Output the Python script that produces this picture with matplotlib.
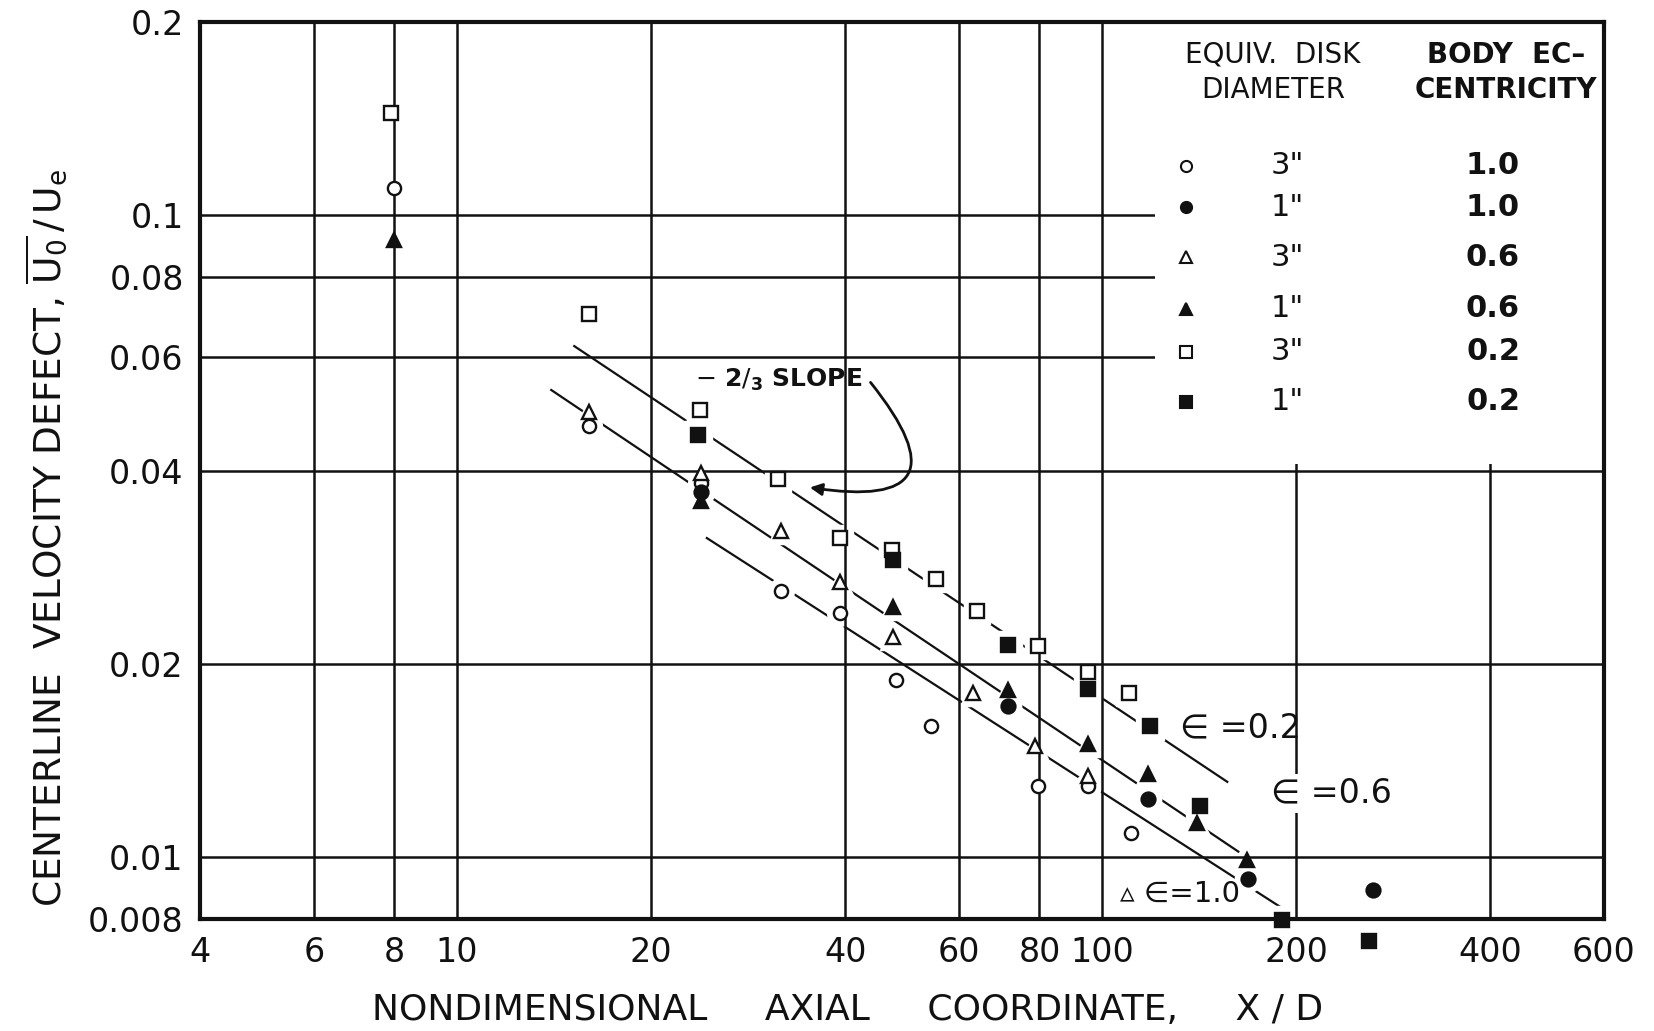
import matplotlib
matplotlib.use("Agg")
import matplotlib.pyplot as plt
from matplotlib.patches import Rectangle
from matplotlib.ticker import NullLocator

plt.rcParams["font.family"] = ["DejaVu Sans"]
plt.rcParams["mathtext.fontset"] = "dejavusans"

# axial station X/D and centerline defect U0/Ue for each disk/eccentricity set
C3_X = [8.0, 16.0, 23.9, 31.8, 39.3, 47.9, 54.3, 79.6, 95.0, 110.8]
C3_Y = [0.110, 0.0469, 0.0382, 0.0260, 0.0240, 0.0189, 0.0160, 0.0129, 0.0129, 0.0109]
C1_X = [23.9, 71.4, 118.0, 168.6, 263.5]
C1_Y = [0.0371, 0.0172, 0.0123, 0.00926, 0.0089]
T3_X = [16.0, 23.9, 31.8, 39.3, 47.5, 63.2, 78.7, 95.0]
T3_Y = [0.0493, 0.0397, 0.0322, 0.0268, 0.0220, 0.0180, 0.0149, 0.0134]
T1_X = [8.0, 23.9, 47.5, 71.4, 95.3, 118.0, 140.5, 167.6]
T1_Y = [0.0913, 0.0358, 0.0245, 0.0182, 0.0150, 0.01345, 0.0113, 0.0099]
S3_X = [7.9, 16.0, 23.8, 31.5, 39.3, 47.3, 55.2, 63.9, 79.5, 95.3, 110.0]
S3_Y = [0.144, 0.0700, 0.0497, 0.0388, 0.0314, 0.0301, 0.0271, 0.0242, 0.0213, 0.0194, 0.0180]
S1_X = [23.6, 47.5, 71.4, 95.3, 118.5, 142.0, 190.0, 259.5]
S1_Y = [0.0455, 0.0290, 0.0214, 0.0183, 0.0160, 0.0120, 0.00798, 0.0074]

# -2/3 slope reference lines (eccentricity 0.2, 0.6, 1.0), end points
FIT_X0 = [15.2, 14.0, 24.4]
FIT_Y0 = [0.0625, 0.0534, 0.0314]
FIT_X1 = [156.4, 162.7, 188.8]
FIT_Y1 = [0.0131, 0.0102, 0.00837]

X_TICKS = [4, 6, 8, 10, 20, 40, 60, 80, 100, 200, 400, 600]
Y_TICKS = [0.008, 0.01, 0.02, 0.04, 0.06, 0.08, 0.1, 0.2]
Y_TICK_LABELS = ["0.008", "0.01", "0.02", "0.04", "0.06", "0.08", "0.1", "0.2"]

LEGEND_DIAM = ['3"', '1"', '3"', '1"', '3"', '1"']
LEGEND_ECC = ["1.0", "1.0", "0.6", "0.6", "0.2", "0.2"]

SERIES = [
    (C3_X, C3_Y, "o", False, 9.5),
    (T3_X, T3_Y, "^", False, 10),
    (S3_X, S3_Y, "s", False, 10),
    (C1_X, C1_Y, "o", True, 10),
    (T1_X, T1_Y, "^", True, 10),
    (S1_X, S1_Y, "s", True, 10.5),
]
LEGEND_ORDER = [("o", False), ("o", True), ("^", False), ("^", True), ("s", False), ("s", True)]
LEGEND_ROWS = [0.8393, 0.7936, 0.7379, 0.6800, 0.6321, 0.5764]

INK = "#111111"
EPS = "\u2208"

fig = plt.figure(figsize=(16.54, 10.31), dpi=100)
ax = fig.add_axes([0.1211, 0.1083, 0.8486, 0.8706])
ax.set_xscale("log")
ax.set_yscale("log")
ax.set_xlim(4, 600)
ax.set_ylim(0.008, 0.2)

ax.set_xticks(X_TICKS)
ax.set_xticklabels([str(v) for v in X_TICKS])
ax.set_yticks(Y_TICKS)
ax.set_yticklabels(Y_TICK_LABELS)
ax.xaxis.set_minor_locator(NullLocator())
ax.yaxis.set_minor_locator(NullLocator())
ax.tick_params(axis="both", length=0, labelsize=24, colors=INK)
ax.tick_params(axis="x", pad=12)
ax.tick_params(axis="y", pad=12)

ax.set_axisbelow(False)
ax.grid(True, color=INK, lw=1.8)
for sp in ax.spines.values():
    sp.set_linewidth(3)
    sp.set_color(INK)
    sp.set_zorder(5)

# blank panel holding the key
ax.add_patch(Rectangle((121, 0.0409), 600 - 121, 0.2 - 0.0409,
                       facecolor="white", edgecolor="none", zorder=2.6))

for x0, y0, x1, y1 in zip(FIT_X0, FIT_Y0, FIT_X1, FIT_Y1):
    ax.plot([x0, x1], [y0, y1], color=INK, lw=1.6, zorder=1.2)

# white halos break the fit lines around each symbol
for xs, ys, m, filled, ms in SERIES:
    ax.plot(xs, ys, ls="none", marker=m, ms=ms + 9, mfc="white", mec="white",
            zorder=1.4, clip_on=False)
for xs, ys, m, filled, ms in SERIES:
    ax.plot(xs, ys, ls="none", marker=m, ms=ms, mfc=INK if filled else "white",
            mec=INK, mew=1.7, zorder=3, clip_on=False)

# key
for i, (m, filled) in enumerate(LEGEND_ORDER):
    yy = LEGEND_ROWS[i]
    ax.plot([0.7023], [yy], transform=ax.transAxes, ls="none", marker=m,
            ms=8 if m != "^" else 8.5, mfc=INK if filled else "white",
            mec=INK, mew=1.5, zorder=4)
    ax.text(0.7743, yy, LEGEND_DIAM[i], transform=ax.transAxes, ha="center",
            va="center", fontsize=22, color=INK, zorder=4)
    ax.text(0.921, yy, LEGEND_ECC[i], transform=ax.transAxes, ha="center",
            va="center", fontsize=22, fontweight="bold", color=INK, zorder=4)
ax.text(0.7638, 0.963, "EQUIV.  DISK", transform=ax.transAxes, ha="center",
        va="center", fontsize=20, color=INK, zorder=4)
ax.text(0.7646, 0.924, "DIAMETER", transform=ax.transAxes, ha="center",
        va="center", fontsize=20, color=INK, zorder=4)
ax.text(0.9304, 0.963, "BODY  EC\u2013", transform=ax.transAxes, ha="center",
        va="center", fontsize=20, fontweight="bold", color=INK, zorder=4)
ax.text(0.9304, 0.924, "CENTRICITY", transform=ax.transAxes, ha="center",
        va="center", fontsize=20, fontweight="bold", color=INK, zorder=4)

# line labels
ax.text(132, 0.0159, EPS + " =0.2", fontsize=24, color=INK, va="center", zorder=4)
ax.text(183, 0.01257, EPS + " =0.6", fontsize=24, color=INK, va="center", zorder=4,
        bbox=dict(facecolor="white", edgecolor="none", pad=2))
ax.text(106.7, 0.00878, "\u25b5 " + EPS + "=1.0", fontsize=21, color=INK,
        va="center", zorder=4)

ax.text(23.4, 0.0553, r"$-\ \mathbf{2}/_{\mathbf{3}}$ SLOPE", fontsize=18,
        fontweight="bold", color=INK, va="center", zorder=4)
ax.annotate("", xy=(34.9, 0.0377), xytext=(43.5, 0.0553),
            arrowprops=dict(arrowstyle="-|>", connectionstyle="arc3,rad=-1.3",
                            lw=2, color=INK, mutation_scale=18), zorder=4)

fig.text(848 / 1654, 1 - 1010 / 1031,
         "NONDIMENSIONAL     AXIAL     COORDINATE,     X / D",
         ha="center", va="center", fontsize=26, color=INK)
fig.text(47 / 1654, 1 - 538 / 1031,
         r"CENTERLINE  VELOCITY DEFECT, $\overline{\mathrm{U}_0}\,/\,\mathrm{U_e}$",
         ha="center", va="center", rotation=90, fontsize=27, color=INK)

fig.savefig("out.png", dpi=100)
